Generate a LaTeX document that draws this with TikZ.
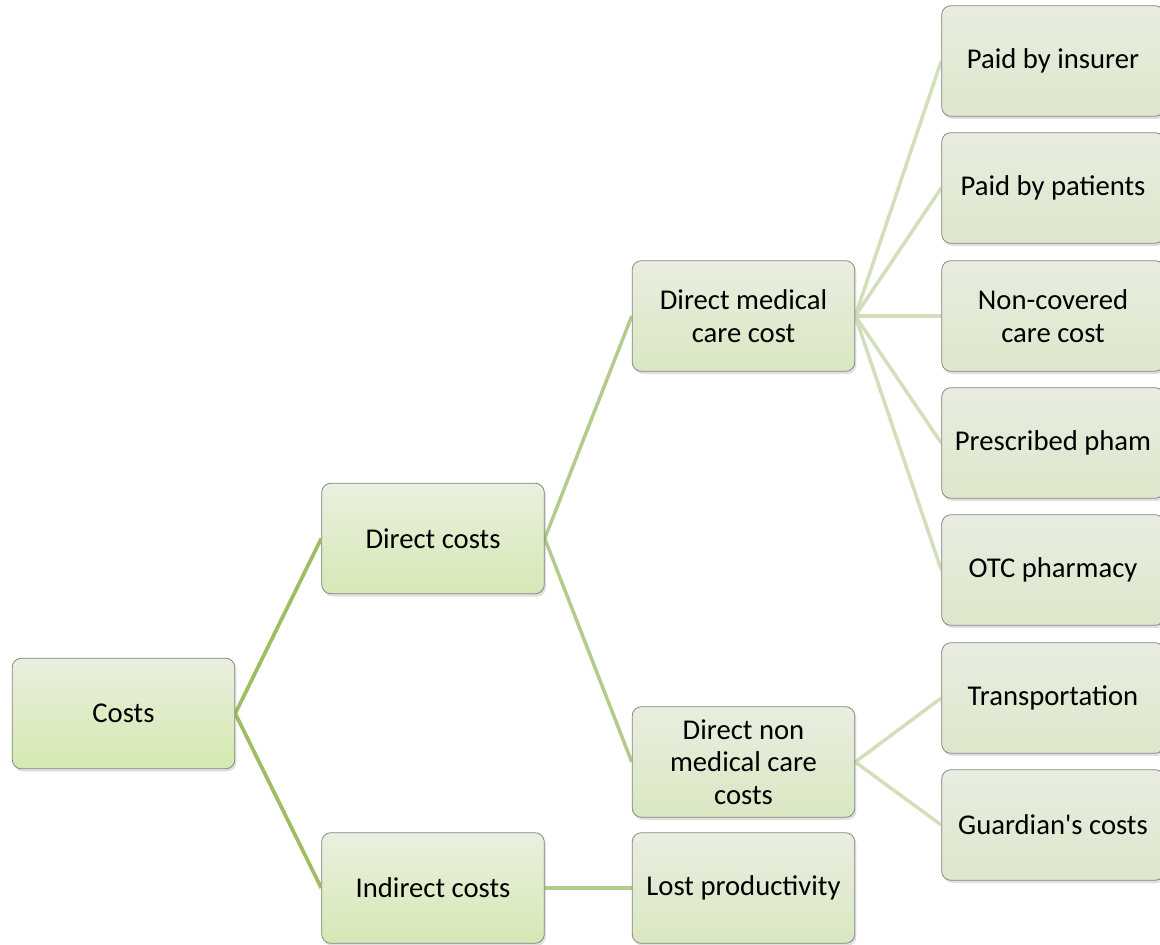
\documentclass[tikz,border=0pt]{standalone}
\usepackage{fontspec}
\setmainfont{Carlito}[Ligatures=TeXOff]
\usetikzlibrary{shadows,backgrounds}
\definecolor{edgeA}{HTML}{9FBD63}
\definecolor{edgeB}{HTML}{B4CB8B}
\definecolor{edgeC}{HTML}{D2DFBA}
\definecolor{boxline}{HTML}{858585}
\tikzset{
  box/.style={draw=boxline, line width=0.6pt, rounded corners=7pt,
    minimum width=167pt, minimum height=83pt, inner sep=2pt,
    align=center, font=\fontsize{21.5}{24.3}\selectfont,
    drop shadow={opacity=0.25, shadow xshift=1.2pt, shadow yshift=-2pt}},
  lvA/.style={box, top color={rgb,255:red,233;green,239;blue,223}, bottom color={rgb,255:red,212;green,233;blue,175}},
  lvB/.style={box, top color={rgb,255:red,234;green,240;blue,224}, bottom color={rgb,255:red,214;green,232;blue,181}},
  lvC/.style={box, top color={rgb,255:red,233;green,238;blue,224}, bottom color={rgb,255:red,218;green,231;blue,194}},
  lvD/.style={box, top color={rgb,255:red,232;green,237;blue,224}, bottom color={rgb,255:red,221;green,231;blue,203}},
  conA/.style={draw=edgeA, line width=2.8pt},
  conB/.style={draw=edgeB, line width=2.6pt},
  conC/.style={draw=edgeC, line width=2.6pt},
}
\begin{document}
\begin{tikzpicture}[x=0.75pt,y=-0.75pt]
\useasboundingbox (0,0) rectangle (1160,945);
\node[lvA] (costs) at (123.5,713.5) {Costs};
\node[lvB] (direct) at (433,538.5) {Direct costs};
\node[lvB] (indirect) at (433,888) {Indirect costs};
\node[lvC] (dmed) at (743.5,316) {Direct medical\\care cost};
\node[lvC] (dnon) at (743.5,762) {Direct non\\medical care\\costs};
\node[lvC] (lost) at (743.5,888) {Lost productivity};
\node[lvD] (ins) at (1053,61) {Paid by insurer};
\node[lvD] (pat) at (1053,188) {Paid by patients};
\node[lvD] (ncov) at (1053,316) {Non-covered\\care cost};
\node[lvD] (presc) at (1053,443) {Prescribed pham};
\node[lvD] (otc) at (1053,570) {OTC pharmacy};
\node[lvD] (trans) at (1053,698) {Transportation};
\node[lvD] (guard) at (1053,825) {Guardian's costs};
\begin{scope}[on background layer]
\draw[conA] (costs.east) -- (direct.west);
\draw[conA] (costs.east) -- (indirect.west);
\draw[conB] (direct.east) -- (dmed.west);
\draw[conB] (direct.east) -- (dnon.west);
\draw[conB] (indirect.east) -- (lost.west);
\draw[conC] (dmed.east) -- (ins.west);
\draw[conC] (dmed.east) -- (pat.west);
\draw[conC] (dmed.east) -- (ncov.west);
\draw[conC] (dmed.east) -- (presc.west);
\draw[conC] (dmed.east) -- (otc.west);
\draw[conC] (dnon.east) -- (trans.west);
\draw[conC] (dnon.east) -- (guard.west);
\end{scope}
\end{tikzpicture}
\end{document}
